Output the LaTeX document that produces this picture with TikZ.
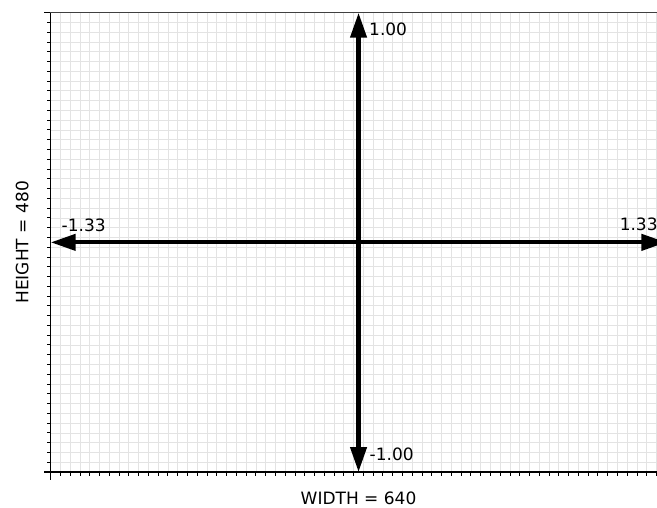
\documentclass[tikz,border=0pt]{standalone}
\usepackage{fontspec}
\setmainfont{DejaVu Sans}
\usetikzlibrary{arrows.meta}

\begin{document}
\begin{tikzpicture}[x=9.772pt, y=9.772pt,
    gridline/.style={draw=black!11, line width=0.8pt},
    spine/.style={line width=1.3pt, line cap=rect},
    tickmark/.style={line width=1pt},
    axisarrow/.style={line width=4.2pt, {Triangle[length=25pt, width=16pt]}-{Triangle[length=25pt, width=16pt]}},
    lbl/.style={font=\fontsize{17}{20}\selectfont, inner sep=0pt}]
    \clip (-5.188,-3.582) rectangle (62.04,48.30);
    % grid
    \foreach \i in {0,...,63} \draw[gridline] (\i,0) -- (\i,47);
    \foreach \j in {0,...,47} \draw[gridline] (0,\j) -- (63,\j);
    % ticks
    \foreach \i in {1,...,63} \draw[tickmark] (\i,0) -- ++(0,-3.5pt);
    \foreach \j in {1,...,46} \draw[tickmark] (0,\j) -- ++(-3.5pt,0);
    \draw[spine] (0,0) -- ++(0,-7pt) (0,0) -- ++(-6pt,0) (0,47) -- ++(-6pt,0);
    % frame
    \draw[spine] (0,47) -- (0,0) -- (63,0);
    \draw[spine, black!75] (0,47) -- (63,47);
    % axes
    \coordinate (west) at (0,23.5);
    \coordinate (east) at (63,23.5);
    \coordinate (south) at (31.5,0);
    \coordinate (north) at (31.5,47);
    \draw[axisarrow] (west) -- (east);
    \draw[axisarrow] (south) -- (north);
    % labels
    \node[lbl, anchor=base west] (ymax) at (32.57,44.65) {1.00};
    \node[lbl, anchor=base west] (ymin) at (32.62,1.156) {-1.00};
    \node[lbl, anchor=base west] (xmin) at (1.105,24.66) {-1.33};
    \node[lbl, anchor=base west] (xmax) at (58.21,24.69) {1.33};
    \node[lbl, anchor=base] (width) at (31.5,-3.275) {WIDTH = 640};
    \node[lbl, anchor=base, rotate=90] (height) at (-2.292,23.5) {HEIGHT = 480};
\end{tikzpicture}
\end{document}
